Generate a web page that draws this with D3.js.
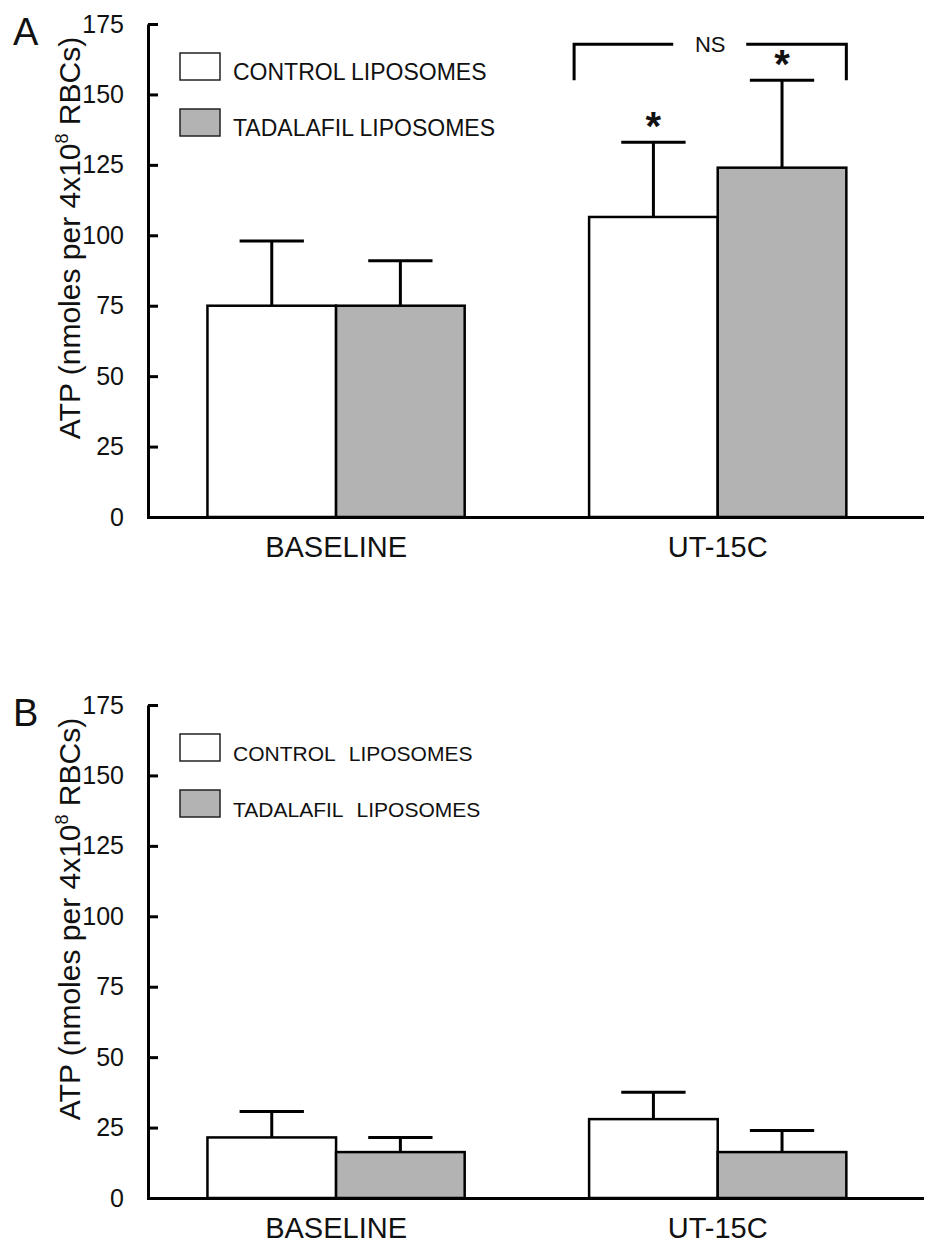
<!DOCTYPE html>
<html>
<head>
<meta charset="utf-8">
<script src="https://cdn.jsdelivr.net/npm/d3@7"></script>
<style>
  body { margin: 0; background: #fff; }
  svg text { font-family: "Liberation Sans", Arial, sans-serif; fill: #111; }
  .axis path, .axis line { stroke: #000; stroke-width: 3; }
</style>
</head>
<body>
<div id="chart"></div>
<script>
// categories and series
var groups = ["BASELINE", "UT-15C"];
var seriesNames = ["CONTROL LIPOSOMES", "TADALAFIL LIPOSOMES"];
var seriesFill = ["#ffffff", "#b3b3b3"];
var yTicks = [0, 25, 50, 75, 100, 125, 150, 175];

// panel A values (mean and error)
var controlA = [75, 106.5];
var controlA_err = [23, 26.5];
var tadalafilA = [75, 124];
var tadalafilA_err = [16, 31];
var starsA = [[false, false], [true, true]];

// panel B values
var controlB = [21.5, 28];
var controlB_err = [9.2, 9.5];
var tadalafilB = [16.3, 16.3];
var tadalafilB_err = [5.2, 7.7];
var starsB = [[false, false], [false, false]];

var width = 938, height = 1247;
var xLeft = 148, xRight = 922;

var svg = d3.select("#chart").append("svg")
    .attr("width", width)
    .attr("height", height);

var panels = [
  { letter: "A", top: 24, bottom: 517, means: [controlA, tadalafilA], errs: [controlA_err, tadalafilA_err],
    stars: starsA, legendFont: 23, wordSpacing: 0, ns: true },
  { letter: "B", top: 705, bottom: 1198, means: [controlB, tadalafilB], errs: [controlB_err, tadalafilB_err],
    stars: starsB, legendFont: 21, wordSpacing: 8, ns: false }
];

panels.forEach(drawPanel);

function drawPanel(p) {
  var g = svg.append("g");

  var y = d3.scaleLinear().domain([0, 175]).range([p.bottom, p.top]);
  var x = d3.scaleBand().domain(groups).range([xLeft, xRight])
      .paddingInner(0.326).paddingOuter(0.177).align(0.44);
  var xs = d3.scaleBand().domain(d3.range(seriesNames.length)).range([0, x.bandwidth()]);

  // build rows from the series arrays
  var rows = [];
  groups.forEach(function(grp, gi) {
    seriesNames.forEach(function(s, si) {
      rows.push({ group: grp, s: si, mean: p.means[si][gi], err: p.errs[si][gi], star: p.stars[gi][si] });
    });
  });

  // bars
  g.selectAll("rect.bar").data(rows).enter().append("rect")
      .attr("class", "bar")
      .attr("x", function(d) { return x(d.group) + xs(d.s); })
      .attr("y", function(d) { return y(d.mean); })
      .attr("width", xs.bandwidth())
      .attr("height", function(d) { return y(0) - y(d.mean); })
      .style("fill", function(d) { return seriesFill[d.s]; })
      .style("stroke", "#000")
      .style("stroke-width", 2.5);

  // error bars (upper only)
  var cx = function(d) { return x(d.group) + xs(d.s) + xs.bandwidth() / 2; };
  var capW = xs.bandwidth() / 4;
  g.selectAll("line.err").data(rows).enter().append("line")
      .attr("x1", cx).attr("x2", cx)
      .attr("y1", function(d) { return y(d.mean); })
      .attr("y2", function(d) { return y(d.mean + d.err); })
      .style("stroke", "#000").style("stroke-width", 3);
  g.selectAll("line.cap").data(rows).enter().append("line")
      .attr("x1", function(d) { return cx(d) - capW; })
      .attr("x2", function(d) { return cx(d) + capW; })
      .attr("y1", function(d) { return y(d.mean + d.err); })
      .attr("y2", function(d) { return y(d.mean + d.err); })
      .style("stroke", "#000").style("stroke-width", 3);

  // significance stars
  g.selectAll("text.star").data(rows.filter(function(d) { return d.star; })).enter().append("text")
      .attr("x", cx)
      .attr("y", function(d) { return y(d.mean + d.err) - 2; })
      .attr("text-anchor", "middle")
      .style("font-size", "40px")
      .style("font-weight", "bold")
      .text("*");

  // NS bracket over UT-15C pair
  if (p.ns) {
    var ut = rows.filter(function(d) { return d.group === "UT-15C"; });
    var bx0 = x("UT-15C") - 15, bx1 = x("UT-15C") + x.bandwidth();
    var lowY = y(d3.max(ut, function(d) { return d.mean + d.err; }));
    var topY = lowY - 36;
    var mid = (bx0 + bx1) / 2;
    g.append("path")
        .attr("d", "M" + bx0 + "," + lowY + "V" + topY + "H" + (mid - 37))
        .style("fill", "none").style("stroke", "#000").style("stroke-width", 3);
    g.append("path")
        .attr("d", "M" + (mid + 36) + "," + topY + "H" + bx1 + "V" + lowY)
        .style("fill", "none").style("stroke", "#000").style("stroke-width", 3);
    g.append("text")
        .attr("x", mid)
        .attr("y", topY + 8)
        .attr("text-anchor", "middle")
        .style("font-size", "22px")
        .text("NS");
  }

  // y axis
  var yAxis = d3.axisLeft(y)
      .tickValues(yTicks)
      .tickSizeInner(-10)
      .tickSizeOuter(0)
      .tickPadding(24);
  var ya = g.append("g")
      .attr("class", "axis")
      .attr("transform", "translate(" + xLeft + ",0)")
      .call(yAxis);
  ya.selectAll("text").style("font-size", "25px").style("font-family", "'Liberation Sans', Arial, sans-serif").style("fill", "#111");

  // x axis
  var xAxis = d3.axisBottom(x).tickSize(0).tickSizeOuter(0);
  var xa = g.append("g")
      .attr("class", "axis")
      .attr("transform", "translate(0," + p.bottom + ")")
      .call(xAxis);
  xa.selectAll("text")
      .attr("dy", null)
      .attr("y", 40)
      .style("font-size", "29px")
      .style("font-family", "'Liberation Sans', Arial, sans-serif")
      .style("fill", "#111");
  xa.select(".domain").style("stroke-linecap", "square");

  // y axis label
  var lab = g.append("text")
      .attr("transform", "translate(80," + (p.top + 214) + ") rotate(-90)")
      .attr("text-anchor", "middle")
      .style("font-size", "30px");
  lab.append("tspan").text("ATP (nmoles per 4x10");
  lab.append("tspan").attr("dy", -12).style("font-size", "18px").text("8");
  lab.append("tspan").attr("dy", 12).text(" RBCs)");

  // panel letter
  g.append("text")
      .attr("x", 13)
      .attr("y", p.top + 21)
      .style("font-size", "38px")
      .text(p.letter);

  // legend
  var leg = g.selectAll("g.legend").data(seriesNames).enter().append("g")
      .attr("transform", function(d, i) { return "translate(180," + (p.top + 29 + i * 56) + ")"; });
  leg.append("rect")
      .attr("width", 40).attr("height", 27)
      .style("fill", function(d, i) { return seriesFill[i]; })
      .style("stroke", "#222").style("stroke-width", 1.5);
  leg.append("text")
      .attr("x", 53).attr("y", 27)
      .style("font-size", p.legendFont + "px")
      .style("word-spacing", p.wordSpacing + "px")
      .text(function(d) { return d; });
}
</script>
</body>
</html>
